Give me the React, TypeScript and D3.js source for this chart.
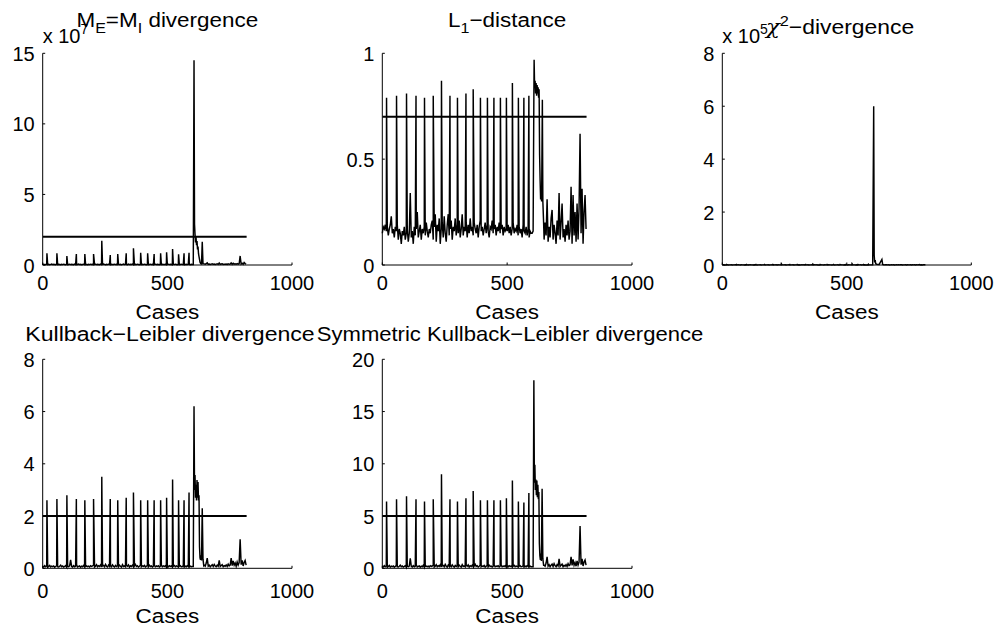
import React from 'react';
import * as d3 from 'd3';

// ---------------- DATA ----------------
const X_TICKS = [0, 500, 1000];
const THRESHOLD_EXTENT = [1, 818];

// cases of the periodic spikes (shared by all measures)
const SPIKE_CASES = [17, 57, 97, 135, 169, 204, 237, 271, 301, 335, 364, 393, 421, 447, 473, 497, 521, 545, 567, 587];

// ---- M_E = M_I divergence (x 10^7)
const M_TICKS = [0, 5, 10, 15];
const M_THRESHOLD = 2;
const M_SPIKES = [0.83, 0.83, 0.64, 0.78, 0.78, 0.78, 1.72, 0.71, 0.78, 0.83, 1.18, 0.87, 0.83, 0.78, 0.83, 0.9, 1.13, 0.76, 0.83, 0.87];
const M_PRE = [ // cases 0..600 step 4
  0.03, 0.05, 0.02, 0.04, 0.06, 0.03, 0.05, 0.02, 0.04, 0.07, 0.03, 0.05, 0.04, 0.02, 0.06, 0.03, 0.05, 0.04, 0.02, 0.05, 0.03, 0.06, 0.04, 0.02, 0.05,
  0.03, 0.04, 0.06, 0.03, 0.05, 0.04, 0.02, 0.06, 0.03, 0.05, 0.04, 0.07, 0.03, 0.05, 0.02, 0.04, 0.06, 0.03, 0.05, 0.04, 0.02, 0.05, 0.03, 0.06, 0.04,
  0.05, 0.02, 0.04, 0.06, 0.03, 0.05, 0.04, 0.02, 0.06, 0.03, 0.05, 0.07, 0.04, 0.02, 0.05, 0.03, 0.06, 0.04, 0.02, 0.05, 0.03, 0.04, 0.06, 0.03, 0.05,
  0.04, 0.06, 0.03, 0.05, 0.02, 0.04, 0.07, 0.03, 0.05, 0.04, 0.02, 0.06, 0.03, 0.05, 0.04, 0.06, 0.02, 0.04, 0.05, 0.03, 0.06, 0.04, 0.02, 0.05, 0.03,
  0.05, 0.03, 0.06, 0.04, 0.02, 0.05, 0.03, 0.04, 0.06, 0.03, 0.05, 0.02, 0.04, 0.06, 0.03, 0.05, 0.04, 0.02, 0.06, 0.03, 0.05, 0.04, 0.03, 0.05, 0.02,
  0.04, 0.06, 0.03, 0.05, 0.04, 0.02, 0.05, 0.03, 0.06, 0.04, 0.02, 0.05, 0.03, 0.04, 0.06, 0.03, 0.05, 0.02, 0.04, 0.05, 0.03, 0.06, 0.04, 0.02, 0.05,
  0.04,
];
const M_EVENT_CASES = [604, 607, 609, 611, 613, 615, 617, 619, 621, 623, 625, 627, 629, 631, 634, 637, 640, 643];
const M_EVENT = [0.04, 14.5, 2.9, 2.2, 1.6, 2.0, 1.4, 1.7, 1.1, 1.3, 0.8, 0.6, 0.4, 0.2, 0.1, 0.08, 1.65, 0.1];
const M_POST = [ // cases 648..816 step 4
  0.08, 0.05, 0.1, 0.15, 0.05, 0.07, 0.04, 0.06, 0.08, 0.05, 0.07, 0.04, 0.06, 0.08, 0.05, 0.15, 0.05, 0.07, 0.09, 0.04, 0.06, 0.05,
  0.07, 0.04, 0.08, 0.05, 0.07, 0.15, 0.05, 0.12, 0.06, 0.08, 0.05, 0.1, 0.06, 0.09, 0.64, 0.06, 0.12, 0.05, 0.18, 0.1, 0.06,
];

// ---- L1-distance
const L1_TICKS = [0, 0.5, 1];
const L1_THRESHOLD = 0.7;
const L1_SPIKES = [0.79, 0.8, 0.81, 0.8, 0.79, 0.8, 0.87, 0.8, 0.79, 0.81, 0.83, 0.79, 0.79, 0.79, 0.79, 0.79, 0.86, 0.79, 0.79, 0.8];
const L1_PRE = [ // cases 0..600 step 4
  0.15, 0.18, 0.17, 0.19, 0.16, 0.18, 0.14, 0.17, 0.19, 0.23, 0.15, 0.17, 0.13, 0.18, 0.16, 0.19, 0.12, 0.17, 0.15, 0.10, 0.16, 0.14, 0.18, 0.12, 0.15,
  0.17, 0.11, 0.15, 0.34, 0.13, 0.16, 0.10, 0.18, 0.14, 0.17, 0.25, 0.13, 0.16, 0.19, 0.12, 0.17, 0.15, 0.18, 0.14, 0.20, 0.16, 0.13, 0.17, 0.15, 0.19,
  0.21, 0.12, 0.18, 0.24, 0.11, 0.19, 0.16, 0.22, 0.10, 0.17, 0.20, 0.13, 0.23, 0.15, 0.11, 0.19, 0.24, 0.14, 0.17, 0.21, 0.12, 0.18, 0.16, 0.22, 0.14,
  0.19, 0.15, 0.21, 0.13, 0.17, 0.24, 0.14, 0.18, 0.16, 0.20, 0.13, 0.19, 0.15, 0.22, 0.16, 0.18, 0.14, 0.20, 0.17, 0.15, 0.19, 0.13, 0.18, 0.21, 0.16,
  0.18, 0.14, 0.17, 0.20, 0.15, 0.19, 0.16, 0.13, 0.18, 0.17, 0.21, 0.15, 0.17, 0.19, 0.14, 0.18, 0.16, 0.20, 0.15, 0.17, 0.19, 0.14, 0.18, 0.16, 0.17,
  0.16, 0.19, 0.15, 0.18, 0.14, 0.17, 0.20, 0.15, 0.17, 0.16, 0.19, 0.14, 0.18, 0.15, 0.17, 0.13, 0.19, 0.16, 0.15, 0.18, 0.14, 0.17, 0.13, 0.16, 0.15,
  0.15,
];
const L1_EVENT_CASES = [604, 607, 608, 610, 612, 614, 616, 618, 620, 622, 624, 626, 628, 630, 632, 634, 636, 638, 641, 643, 646];
const L1_EVENT = [0.16, 0.8, 0.97, 0.84, 0.87, 0.81, 0.86, 0.8, 0.85, 0.81, 0.84, 0.79, 0.83, 0.52, 0.4, 0.31, 0.36, 0.3, 0.78, 0.3, 0.2];
const L1_POST = [ // cases 648..816 step 4
  0.12, 0.20, 0.14, 0.31, 0.11, 0.18, 0.13, 0.22, 0.26, 0.12, 0.19, 0.15, 0.10, 0.21, 0.14, 0.34, 0.12, 0.20, 0.29, 0.13, 0.17, 0.11,
  0.19, 0.14, 0.21, 0.12, 0.16, 0.37, 0.10, 0.33, 0.14, 0.25, 0.11, 0.29, 0.12, 0.27, 0.62, 0.15, 0.36, 0.10, 0.25, 0.33, 0.17,
];

// ---- chi^2-divergence (x 10^5)
const CHI_TICKS = [0, 2, 4, 6, 8];
const CHI_SPIKES = [0.02, 0.02, 0.02, 0.02, 0.02, 0.02, 0.05, 0.02, 0.02, 0.02, 0.03, 0.02, 0.02, 0.02, 0.02, 0.02, 0.05, 0.02, 0.02, 0.03];
const CHI_PRE = [ // cases 0..600 step 4
  0.004, 0.006, 0.003, 0.005, 0.004, 0.007, 0.003, 0.005, 0.004, 0.006, 0.002, 0.005, 0.004, 0.006, 0.003, 0.005, 0.007, 0.004, 0.003, 0.006, 0.004, 0.005, 0.003, 0.006, 0.004,
  0.005, 0.003, 0.006, 0.012, 0.004, 0.005, 0.003, 0.006, 0.004, 0.007, 0.003, 0.005, 0.004, 0.006, 0.002, 0.005, 0.004, 0.006, 0.003, 0.005, 0.004, 0.007, 0.003, 0.005, 0.004,
  0.006, 0.003, 0.005, 0.004, 0.007, 0.003, 0.006, 0.004, 0.005, 0.002, 0.006, 0.004, 0.005, 0.008, 0.003, 0.005, 0.004, 0.006, 0.003, 0.005, 0.004, 0.006, 0.003, 0.005, 0.004,
  0.005, 0.004, 0.006, 0.003, 0.005, 0.007, 0.004, 0.006, 0.003, 0.005, 0.004, 0.006, 0.002, 0.005, 0.004, 0.006, 0.003, 0.005, 0.008, 0.004, 0.006, 0.003, 0.005, 0.004, 0.006,
  0.004, 0.005, 0.003, 0.006, 0.004, 0.005, 0.003, 0.006, 0.004, 0.005, 0.002, 0.005, 0.006, 0.003, 0.005, 0.004, 0.006, 0.003, 0.005, 0.007, 0.004, 0.005, 0.003, 0.006, 0.004,
  0.005, 0.003, 0.006, 0.004, 0.005, 0.003, 0.006, 0.004, 0.005, 0.003, 0.006, 0.002, 0.005, 0.004, 0.006, 0.003, 0.005, 0.004, 0.006, 0.003, 0.005, 0.004, 0.003, 0.005, 0.004,
  0.004,
];
const CHI_EVENT_CASES = [604, 608, 610, 612, 614, 616, 620, 630, 641, 644];
const CHI_EVENT = [0.004, 6.0, 0.38, 0.1, 0.19, 0.05, 0.03, 0.02, 0.21, 0.02];
const CHI_POST = [ // cases 648..816 step 4
  0.006, 0.004, 0.008, 0.01, 0.004, 0.006, 0.003, 0.005, 0.007, 0.004, 0.006, 0.003, 0.005, 0.007, 0.004, 0.009, 0.004, 0.006, 0.007, 0.003, 0.005, 0.004,
  0.006, 0.003, 0.007, 0.004, 0.005, 0.01, 0.004, 0.008, 0.005, 0.006, 0.003, 0.007, 0.004, 0.006, 0.02, 0.004, 0.008, 0.003, 0.006, 0.007, 0.004,
];

// ---- Kullback-Leibler divergence
const KL_TICKS = [0, 2, 4, 6, 8];
const KL_THRESHOLD = 2;
const KL_SPIKES = [2.6, 2.65, 2.8, 2.65, 2.6, 2.65, 3.5, 2.65, 2.6, 2.7, 2.9, 2.6, 2.6, 2.6, 2.6, 2.7, 3.4, 2.6, 2.6, 2.9];
const KL_PRE = [ // cases 0..600 step 4
  0.08, 0.05, 0.10, 0.06, 0.09, 0.04, 0.07, 0.11, 0.05, 0.08, 0.06, 0.09, 0.04, 0.07, 0.10, 0.06, 0.05, 0.08, 0.12, 0.06, 0.09, 0.05, 0.07, 0.10, 0.04,
  0.08, 0.06, 0.09, 0.32, 0.07, 0.05, 0.10, 0.06, 0.08, 0.13, 0.05, 0.07, 0.09, 0.04, 0.08, 0.06, 0.11, 0.05, 0.07, 0.09, 0.06, 0.08, 0.05, 0.10, 0.07,
  0.09, 0.12, 0.05, 0.08, 0.14, 0.06, 0.10, 0.07, 0.13, 0.05, 0.09, 0.11, 0.06, 0.15, 0.08, 0.05, 0.12, 0.07, 0.10, 0.06, 0.13, 0.08, 0.05, 0.11, 0.07,
  0.10, 0.06, 0.12, 0.08, 0.05, 0.14, 0.07, 0.09, 0.06, 0.11, 0.08, 0.13, 0.05, 0.10, 0.07, 0.12, 0.06, 0.09, 0.15, 0.07, 0.10, 0.05, 0.08, 0.12, 0.06,
  0.09, 0.07, 0.11, 0.05, 0.08, 0.10, 0.06, 0.12, 0.07, 0.09, 0.05, 0.08, 0.11, 0.06, 0.09, 0.07, 0.10, 0.05, 0.08, 0.12, 0.06, 0.09, 0.07, 0.10, 0.05,
  0.08, 0.06, 0.10, 0.07, 0.09, 0.05, 0.08, 0.11, 0.06, 0.09, 0.07, 0.05, 0.08, 0.10, 0.06, 0.07, 0.09, 0.05, 0.08, 0.06, 0.10, 0.07, 0.05, 0.08, 0.06,
  0.07,
];
const KL_EVENT_CASES = [604, 607, 609, 611, 613, 615, 617, 619, 621, 623, 625, 627, 629, 631, 633, 635, 637, 640, 643, 646];
const KL_EVENT = [0.07, 6.2, 3.0, 3.57, 2.7, 3.2, 2.6, 3.38, 2.7, 3.3, 2.6, 2.8, 0.83, 0.4, 0.32, 0.5, 0.3, 2.3, 0.35, 0.1];
const KL_POST = [ // cases 648..816 step 4
  0.12, 0.08, 0.20, 0.39, 0.08, 0.12, 0.06, 0.10, 0.14, 0.07, 0.15, 0.09, 0.06, 0.12, 0.08, 0.30, 0.07, 0.11, 0.14, 0.06, 0.10, 0.08,
  0.13, 0.07, 0.16, 0.09, 0.12, 0.39, 0.10, 0.28, 0.12, 0.20, 0.08, 0.24, 0.12, 0.22, 1.11, 0.14, 0.30, 0.09, 0.22, 0.30, 0.12,
];

// ---- Symmetric Kullback-Leibler divergence
const SKL_TICKS = [0, 5, 10, 15, 20];
const SKL_THRESHOLD = 5;
const SKL_SPIKES = [6.4, 6.6, 6.9, 6.6, 6.4, 6.6, 9.0, 6.6, 6.4, 6.7, 7.4, 6.5, 6.5, 6.5, 6.5, 6.7, 8.4, 6.4, 6.3, 7.2];
const SKL_PRE = [ // cases 0..600 step 4
  0.20, 0.12, 0.25, 0.15, 0.22, 0.10, 0.18, 0.28, 0.12, 0.20, 0.15, 0.22, 0.10, 0.18, 0.25, 0.15, 0.12, 0.20, 0.30, 0.15, 0.22, 0.12, 0.18, 0.25, 0.10,
  0.20, 0.15, 0.22, 0.96, 0.18, 0.12, 0.25, 0.15, 0.20, 0.33, 0.12, 0.18, 0.22, 0.10, 0.20, 0.15, 0.28, 0.12, 0.18, 0.22, 0.15, 0.20, 0.12, 0.25, 0.18,
  0.22, 0.30, 0.12, 0.20, 0.35, 0.15, 0.25, 0.18, 0.33, 0.12, 0.22, 0.28, 0.15, 0.38, 0.20, 0.12, 0.30, 0.18, 0.25, 0.15, 0.33, 0.20, 0.12, 0.28, 0.18,
  0.25, 0.15, 0.30, 0.20, 0.12, 0.35, 0.18, 0.22, 0.15, 0.28, 0.20, 0.33, 0.12, 0.25, 0.18, 0.30, 0.15, 0.22, 0.38, 0.18, 0.25, 0.12, 0.20, 0.30, 0.15,
  0.22, 0.18, 0.28, 0.12, 0.20, 0.25, 0.15, 0.30, 0.18, 0.22, 0.12, 0.20, 0.28, 0.15, 0.22, 0.18, 0.25, 0.12, 0.20, 0.30, 0.15, 0.22, 0.18, 0.25, 0.12,
  0.20, 0.15, 0.25, 0.18, 0.22, 0.12, 0.20, 0.28, 0.15, 0.22, 0.18, 0.12, 0.20, 0.25, 0.15, 0.18, 0.22, 0.12, 0.20, 0.15, 0.25, 0.18, 0.12, 0.20, 0.15,
  0.15,
];
const SKL_EVENT_CASES = [604, 607, 609, 611, 613, 615, 617, 619, 621, 623, 625, 627, 629, 631, 633, 635, 637, 640, 643, 646];
const SKL_EVENT = [0.15, 18.0, 8.2, 9.9, 7.5, 8.5, 7.0, 8.4, 6.8, 8.0, 6.6, 7.3, 2.4, 1.2, 0.8, 1.4, 0.7, 7.6, 0.9, 0.3];
const SKL_POST = [ // cases 648..816 step 4
  0.3, 0.2, 0.5, 1.1, 0.2, 0.35, 0.15, 0.3, 0.4, 0.18, 0.45, 0.25, 0.15, 0.35, 0.22, 0.9, 0.18, 0.3, 0.4, 0.15, 0.28, 0.2,
  0.35, 0.18, 0.45, 0.25, 0.32, 1.1, 0.28, 0.85, 0.3, 0.55, 0.2, 0.7, 0.3, 0.6, 4.05, 0.35, 0.9, 0.22, 0.6, 0.8, 0.3,
];

// ---------------- helpers ----------------
type Pt = [number, number];
const stepped = (start: number, step: number, vals: number[]): Pt[] => vals.map((v, i) => [start + i * step, v]);
const zipped = (cs: number[], vs: number[]): Pt[] => cs.map((c, i) => [c, vs[i]]);
const merge = (...parts: Pt[][]): Pt[] => ([] as Pt[]).concat(...parts).sort((a, b) => a[0] - b[0]);

const SERIES = {
  m: merge(stepped(0, 4, M_PRE), zipped(SPIKE_CASES, M_SPIKES), zipped(M_EVENT_CASES, M_EVENT), stepped(648, 4, M_POST)),
  l1: merge(stepped(0, 4, L1_PRE), zipped(SPIKE_CASES, L1_SPIKES), zipped(L1_EVENT_CASES, L1_EVENT), stepped(648, 4, L1_POST)),
  chi: merge(stepped(0, 4, CHI_PRE), zipped(SPIKE_CASES, CHI_SPIKES), zipped(CHI_EVENT_CASES, CHI_EVENT), stepped(648, 4, CHI_POST)),
  kl: merge(stepped(0, 4, KL_PRE), zipped(SPIKE_CASES, KL_SPIKES), zipped(KL_EVENT_CASES, KL_EVENT), stepped(648, 4, KL_POST)),
  skl: merge(stepped(0, 4, SKL_PRE), zipped(SPIKE_CASES, SKL_SPIKES), zipped(SKL_EVENT_CASES, SKL_EVENT), stepped(648, 4, SKL_POST)),
};

const FONT = "'Liberation Sans', Arial, Helvetica, sans-serif";
const CHI_FONT = "'DejaVu Serif', serif";

type PanelDef = {
  key: string;
  x0: number; x1: number; yTop: number; yBot: number;
  yTicks: number[];
  threshold: number | null;
  data: Pt[];
  title: React.ReactNode;
  titleX?: number;
  titleY: number;
  titleSx: number;
  tickDy: number;
  labelDy: number;
  mult?: string;
};

const PANELS: PanelDef[] = [
  {
    key: 'm', x0: 42.7, x1: 292, yTop: 53.3, yBot: 265, yTicks: M_TICKS, threshold: M_THRESHOLD, data: SERIES.m,
    title: (<>M<tspan fontSize={15} dy={6}>E</tspan><tspan dy={-6}>=M</tspan><tspan fontSize={15} dy={6}>I</tspan><tspan dy={-6}> divergence</tspan></>),
    titleY: 27, titleSx: 1.07, tickDy: 25, labelDy: 54, mult: '7',
  },
  {
    key: 'l1', x0: 382.3, x1: 632, yTop: 53.3, yBot: 265, yTicks: L1_TICKS, threshold: L1_THRESHOLD, data: SERIES.l1,
    title: (<>L<tspan fontSize={15} dy={6}>1</tspan><tspan dy={-6}>{'\u2212distance'}</tspan></>),
    titleY: 27, titleSx: 1.07, tickDy: 25, labelDy: 54,
  },
  {
    key: 'chi', x0: 722.3, x1: 971.3, yTop: 53.3, yBot: 265, yTicks: CHI_TICKS, threshold: null, data: SERIES.chi,
    title: (<><tspan fontFamily={CHI_FONT} fontStyle="italic">{'\u03C7'}</tspan><tspan fontSize={15} dy={-8}>2</tspan><tspan dy={8}>{'\u2212divergence'}</tspan></>),
    titleX: 840, titleY: 34, titleSx: 1.09, tickDy: 25, labelDy: 54, mult: '5',
  },
  {
    key: 'kl', x0: 42.7, x1: 292, yTop: 359.3, yBot: 568.3, yTicks: KL_TICKS, threshold: KL_THRESHOLD, data: SERIES.kl,
    title: <>{'Kullback\u2212Leibler divergence'}</>,
    titleX: 170, titleY: 341, titleSx: 1.1, tickDy: 30, labelDy: 55,
  },
  {
    key: 'skl', x0: 382.3, x1: 632, yTop: 359.3, yBot: 568.3, yTicks: SKL_TICKS, threshold: SKL_THRESHOLD, data: SERIES.skl,
    title: <>{'Symmetric Kullback\u2212Leibler divergence'}</>,
    titleX: 510, titleY: 341, titleSx: 1.05, tickDy: 30, labelDy: 55,
  },
];

function Panel({ p }: { p: PanelDef }) {
  const yMax = p.yTicks[p.yTicks.length - 1];
  const x = d3.scaleLinear().domain([0, 1000]).range([p.x0, p.x1]);
  const y = d3.scaleLinear().domain([0, yMax]).range([p.yBot, p.yTop]);
  const line = d3.line<Pt>().x((d) => x(d[0])).y((d) => y(d[1]));
  const cx = (p.x0 + p.x1) / 2;
  const tx = p.titleX ?? cx;
  const fmt = (v: number) => String(v);
  return (
    <g>
      {/* data */}
      <path d={line(p.data) || ''} fill="none" stroke="#000" strokeWidth={1.45} />
      {p.threshold !== null && (
        <line x1={x(THRESHOLD_EXTENT[0])} x2={x(THRESHOLD_EXTENT[1])} y1={y(p.threshold)} y2={y(p.threshold)} stroke="#000" strokeWidth={2} />
      )}
      {/* axes */}
      <line x1={p.x0} x2={p.x1} y1={p.yBot} y2={p.yBot} stroke="#000" strokeWidth={1} />
      <line x1={p.x0} x2={p.x0} y1={p.yBot} y2={p.yTop} stroke="#000" strokeWidth={1} />
      {X_TICKS.map((t) => (
        <g key={'x' + t}>
          <line x1={x(t)} x2={x(t)} y1={p.yBot} y2={p.yBot - 2.5} stroke="#000" strokeWidth={1} />
          <text x={x(t)} y={p.yBot + p.tickDy} textAnchor="middle" fontSize={20} fontFamily={FONT}>{fmt(t)}</text>
        </g>
      ))}
      {p.yTicks.map((t) => (
        <g key={'y' + t}>
          <line x1={p.x0} x2={p.x0 + 2.5} y1={y(t)} y2={y(t)} stroke="#000" strokeWidth={1} />
          <text x={p.x0 - 8} y={y(t) + 7.5} textAnchor="end" fontSize={20} fontFamily={FONT}>{fmt(t)}</text>
        </g>
      ))}
      {/* x label */}
      <text transform={`translate(${cx},${p.yBot + p.labelDy}) scale(1.07,1)`} textAnchor="middle" fontSize={21} fontFamily={FONT}>Cases</text>
      {/* multiplier */}
      {p.mult && (
        <text x={p.x0} y={43} fontSize={20} fontFamily={FONT}>
          x 10<tspan fontSize={14} dy={-9}>{p.mult}</tspan>
        </text>
      )}
      {/* title */}
      <text transform={`translate(${tx},${p.titleY}) scale(${p.titleSx},1)`} textAnchor="middle" fontSize={21} fontFamily={FONT}>{p.title}</text>
    </g>
  );
}

export default function App() {
  return (
    <div style={{ position: 'fixed', left: 0, top: 0 }}>
      <svg width={1000} height={630} viewBox="0 0 1000 630" style={{ display: 'block', background: '#fff' }}>
        <rect x={0} y={0} width={1000} height={630} fill="#fff" />
        {PANELS.map((p) => (
          <Panel key={p.key} p={p} />
        ))}
      </svg>
    </div>
  );
}
